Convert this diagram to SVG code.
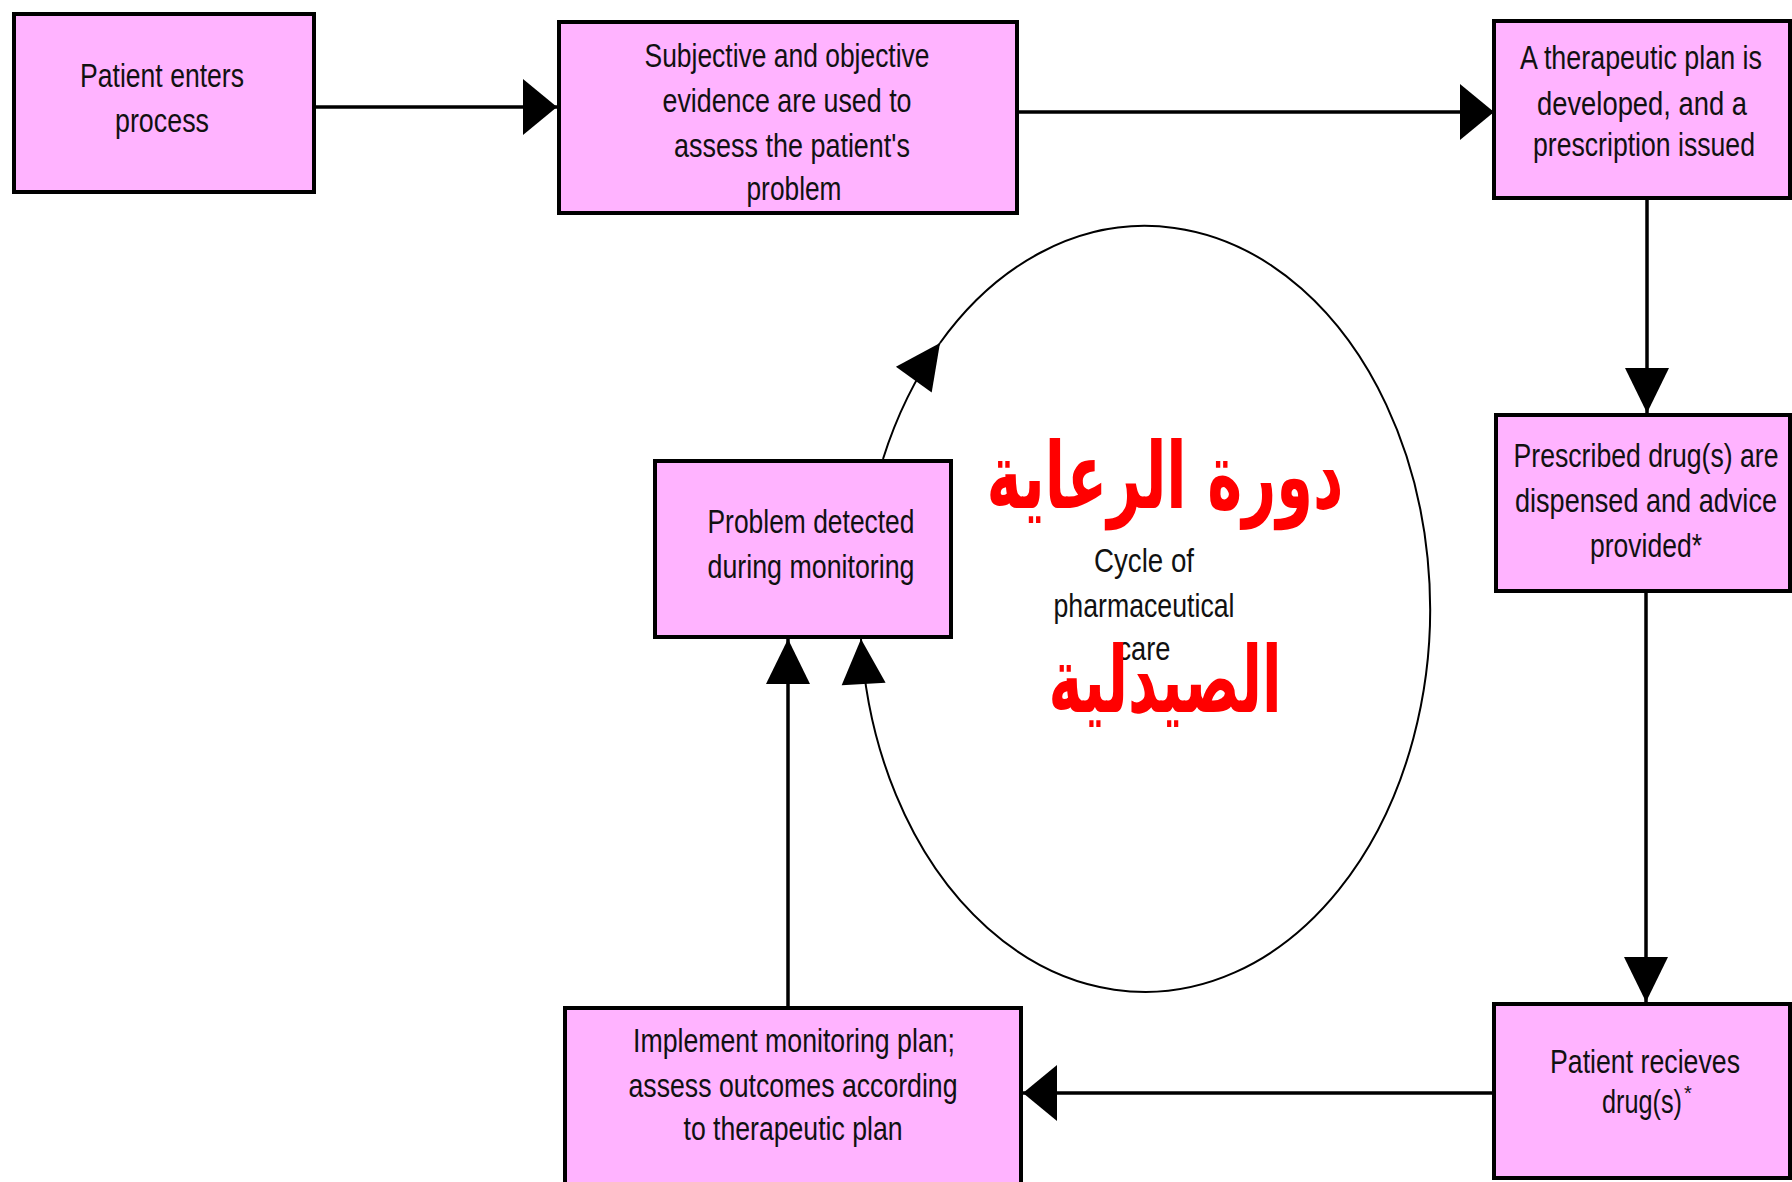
<svg xmlns="http://www.w3.org/2000/svg" width="1792" height="1182" viewBox="0 0 1792 1182">
  <style>
    .box { fill: #ffb3ff; stroke: #000; stroke-width: 4; }
    .t { font-family: "Liberation Sans", Arial, sans-serif; font-size: 34px; fill: #111; text-anchor: middle; }
    .ar { font-family: "DejaVu Sans", sans-serif; font-weight: bold; font-size: 92px; fill: #ff0000; text-anchor: middle; }
    .ln { fill: none; stroke: #000; stroke-width: 3.5; }
    .cyc { fill: none; stroke: #000; stroke-width: 2; }
  </style>
  <defs>
    <marker id="ah" markerUnits="userSpaceOnUse" markerWidth="34" markerHeight="56" refX="34" refY="28" orient="auto" overflow="visible">
      <path d="M0,0 L34,28 L0,56 Z" fill="#000"/>
    </marker>
    <marker id="av" markerUnits="userSpaceOnUse" markerWidth="45" markerHeight="44" refX="45" refY="22" orient="auto" overflow="visible">
      <path d="M0,0 L45,22 L0,44 Z" fill="#000"/>
    </marker>
  </defs>

  <rect width="1792" height="1182" fill="#fff"/>

  <g id="connectors">
    <line class="ln" x1="316" y1="107" x2="557" y2="107" marker-end="url(#ah)"/>
    <line class="ln" x1="1019" y1="112" x2="1494" y2="112" marker-end="url(#ah)"/>
    <line class="ln" x1="1647" y1="200" x2="1647" y2="413" marker-end="url(#av)"/>
    <line class="ln" x1="1646" y1="593" x2="1646" y2="1002" marker-end="url(#av)"/>
    <line class="ln" x1="1492" y1="1093" x2="1023" y2="1093" marker-end="url(#ah)"/>
    <line class="ln" x1="788" y1="1006" x2="788" y2="639" marker-end="url(#av)"/>
    <path class="cyc" d="M883,459 A285,383 0 0 1 940,343" marker-end="url(#av)"/>
    <path class="cyc" d="M940,343 A285,383 0 1 1 861,639" marker-end="url(#av)"/>
  </g>

  <g id="cycle-label">
    <text class="t" x="1144" y="572" textLength="100" lengthAdjust="spacingAndGlyphs">Cycle of</text>
    <text class="t" x="1144" y="617" textLength="181" lengthAdjust="spacingAndGlyphs">pharmaceutical</text>
    <text class="t" x="1144" y="660" textLength="53" lengthAdjust="spacingAndGlyphs">care</text>
    <text class="ar" x="1165" y="508" textLength="357" lengthAdjust="spacingAndGlyphs">دورة الرعاية</text>
    <text class="ar" x="1165" y="712" textLength="233" lengthAdjust="spacingAndGlyphs">الصيدلية</text>
  </g>

  <g id="node-patient-enters">
    <rect class="box" x="14" y="14" width="300" height="178"/>
    <text class="t" x="162" y="87" textLength="164" lengthAdjust="spacingAndGlyphs">Patient enters</text>
    <text class="t" x="162" y="132" textLength="94" lengthAdjust="spacingAndGlyphs">process</text>
  </g>

  <g id="node-assess">
    <rect class="box" x="559" y="22" width="458" height="191"/>
    <text class="t" x="787" y="67" textLength="285" lengthAdjust="spacingAndGlyphs">Subjective and objective</text>
    <text class="t" x="787" y="112" textLength="249" lengthAdjust="spacingAndGlyphs">evidence are used to</text>
    <text class="t" x="792" y="157" textLength="236" lengthAdjust="spacingAndGlyphs">assess the patient's</text>
    <text class="t" x="794" y="200" textLength="95" lengthAdjust="spacingAndGlyphs">problem</text>
  </g>

  <g id="node-plan">
    <rect class="box" x="1494" y="21" width="296" height="177"/>
    <text class="t" x="1641" y="69" textLength="242" lengthAdjust="spacingAndGlyphs">A therapeutic plan is</text>
    <text class="t" x="1642" y="115" textLength="210" lengthAdjust="spacingAndGlyphs">developed, and a</text>
    <text class="t" x="1644" y="156" textLength="222" lengthAdjust="spacingAndGlyphs">prescription issued</text>
  </g>

  <g id="node-dispensed">
    <rect class="box" x="1496" y="415" width="294" height="176"/>
    <text class="t" x="1646" y="467" textLength="265" lengthAdjust="spacingAndGlyphs">Prescribed drug(s) are</text>
    <text class="t" x="1646" y="512" textLength="262" lengthAdjust="spacingAndGlyphs">dispensed and advice</text>
    <text class="t" x="1646" y="557" textLength="112" lengthAdjust="spacingAndGlyphs">provided*</text>
  </g>

  <g id="node-receives">
    <rect class="box" x="1494" y="1004" width="296" height="174"/>
    <text class="t" x="1645" y="1073" textLength="190" lengthAdjust="spacingAndGlyphs">Patient recieves</text>
    <text class="t" x="1642" y="1113" textLength="80" lengthAdjust="spacingAndGlyphs">drug(s)</text>
    <text class="t" x="1688" y="1100" style="font-size:20px">*</text>
  </g>

  <g id="node-implement">
    <rect class="box" x="565" y="1008" width="456" height="184"/>
    <text class="t" x="794" y="1052" textLength="322" lengthAdjust="spacingAndGlyphs">Implement monitoring plan;</text>
    <text class="t" x="793" y="1097" textLength="329" lengthAdjust="spacingAndGlyphs">assess outcomes according</text>
    <text class="t" x="793" y="1140" textLength="219" lengthAdjust="spacingAndGlyphs">to therapeutic plan</text>
  </g>

  <g id="node-problem">
    <rect class="box" x="655" y="461" width="296" height="176"/>
    <text class="t" x="811" y="533" textLength="207" lengthAdjust="spacingAndGlyphs">Problem detected</text>
    <text class="t" x="811" y="578" textLength="207" lengthAdjust="spacingAndGlyphs">during monitoring</text>
  </g>
</svg>
